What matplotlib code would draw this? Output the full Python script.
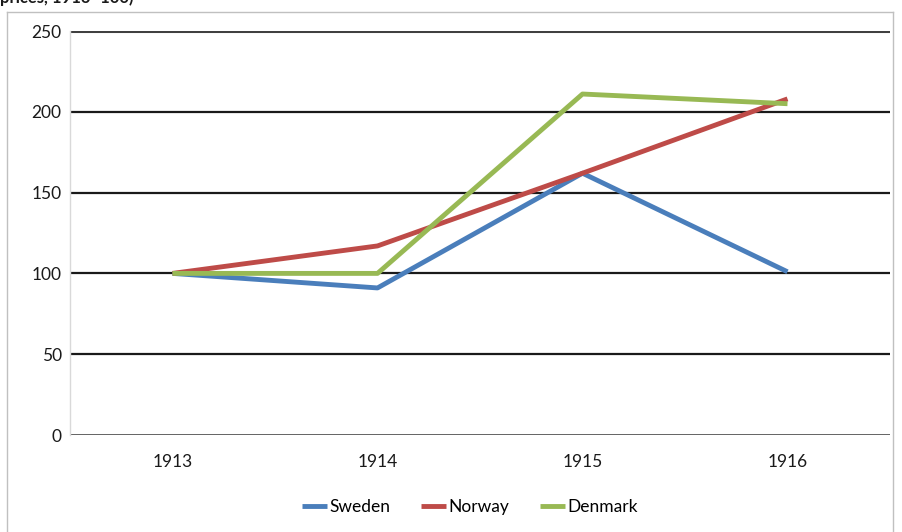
import matplotlib.pyplot as plt
from matplotlib.lines import Line2D

years = ['1913', '1914', '1915', '1916']
sweden = [100, 91, 162, 101]
norway = [100, 117, 162, 208]
denmark = [100, 100, 211, 205]
yticks = [0, 50, 100, 150, 200, 250]

plt.rcParams['font.family'] = ['Lato', 'DejaVu Sans']

W, H = 902, 532
fig = plt.figure(figsize=(W / 100, H / 100), dpi=100)
ax = fig.add_axes([70 / W, 1 - 435 / H, 820 / W, 404 / H])

x = range(len(years))
ax.plot(x, sweden, color='#4a7ebb', lw=3.5, label='Sweden', solid_capstyle='butt')
ax.plot(x, norway, color='#be4b48', lw=3.5, label='Norway', solid_capstyle='butt')
ax.plot(x, denmark, color='#98b954', lw=3.5, label='Denmark', solid_capstyle='butt')

ax.set_xlim(-0.5, 3.5)
ax.set_ylim(0, 250)
ax.set_yticks(yticks)
ax.set_xticks(list(x))
ax.set_xticklabels(years)
for v in yticks[1:-1]:
    ax.axhline(v, color='#1a1a1a', lw=1.6, zorder=0)
ax.axhline(250, color='#404040', lw=2.2, zorder=0)
ax.axhline(0, color='#555555', lw=2, zorder=0)

for s in ['top', 'right', 'bottom']:
    ax.spines[s].set_visible(False)
ax.spines['left'].set_color('#d9d9d9')
ax.spines['left'].set_linewidth(1)
ax.tick_params(length=0, labelsize=12.5, colors='#1a1a1a')
ax.tick_params(axis='x', pad=14)
ax.tick_params(axis='y', pad=6)

# outer chart border (bottom cut off)
bc = '#c0c0c0'
fig.add_artist(Line2D([7 / W, 7 / W], [0, 1 - 12 / H], color=bc, lw=1))
fig.add_artist(Line2D([7 / W, 893 / W], [1 - 12 / H, 1 - 12 / H], color=bc, lw=1))
fig.add_artist(Line2D([893 / W, 893 / W], [0, 1 - 12 / H], color=bc, lw=1))

# title cut off at top, as in the source image
fig.text(0 / W, 1 + 2 / H, 'prices, 1913=100)', fontsize=12, fontweight='bold',
         va='center', ha='left', color='#1a1a1a')

ax.legend(loc='center', bbox_to_anchor=(470 / W, 1 - 507 / H),
          bbox_transform=fig.transFigure, ncol=3, frameon=False,
          fontsize=12.5, handlelength=1.4, handletextpad=0.15, columnspacing=1.8)

fig.savefig('out.png', dpi=100)
